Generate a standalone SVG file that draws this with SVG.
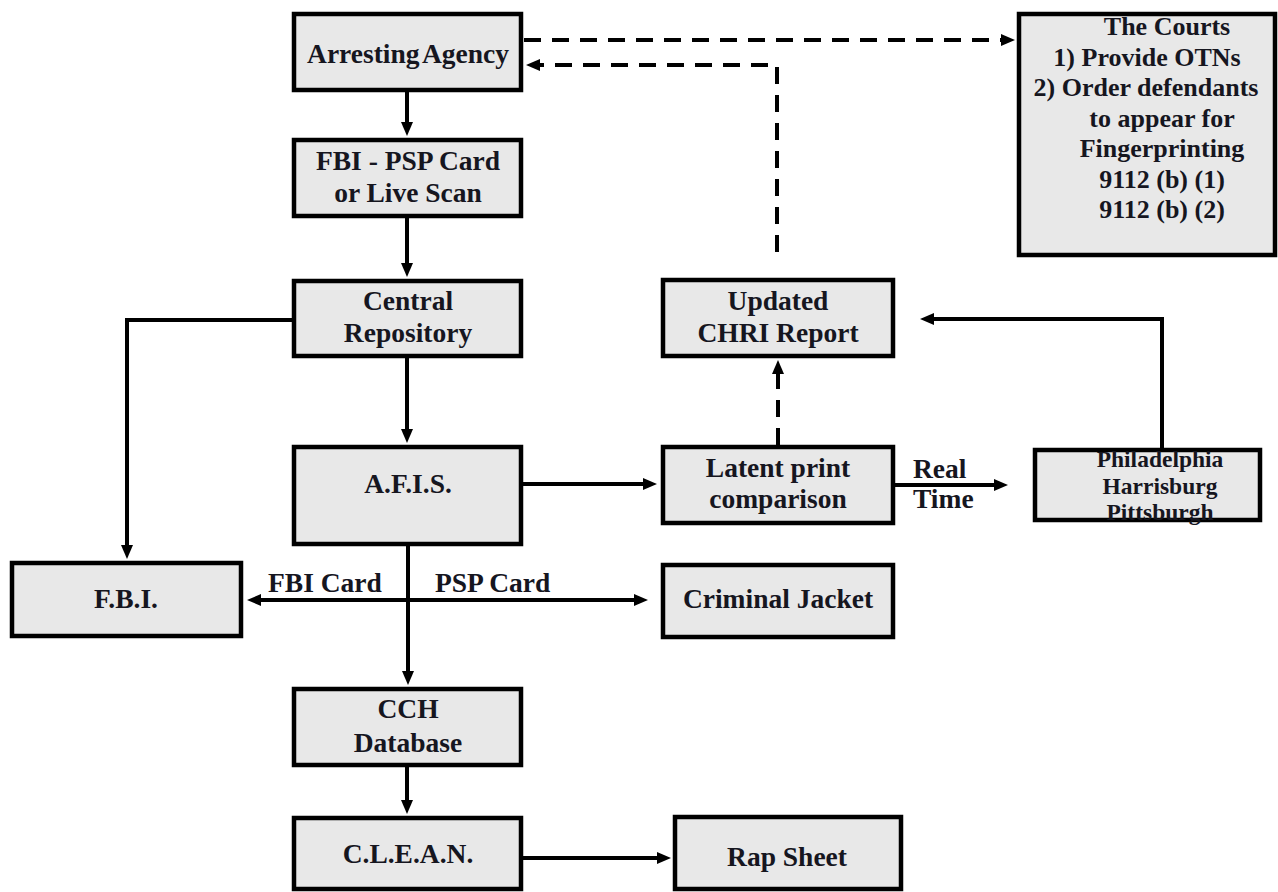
<svg xmlns="http://www.w3.org/2000/svg" width="1278" height="892" viewBox="0 0 1278 892">
<style>
.box{fill:#e8e8e8;stroke:#000;stroke-width:4.5}
.t{font-family:"Liberation Serif","Times New Roman",serif;font-weight:bold;font-size:27.5px;fill:#16161f;text-anchor:middle}
.s{font-size:23.5px}
.m{font-size:26px}
.l{text-anchor:start}
.c{fill:none;stroke:#000;stroke-width:4}
.d{stroke-dasharray:17 11}
</style>
<defs>
<marker id="ah" markerUnits="userSpaceOnUse" markerWidth="14" markerHeight="12" refX="8" refY="6" orient="auto">
<path d="M0,0 L14,6 L0,12 z" fill="#000"/>
</marker>
</defs>
<rect width="1278" height="892" fill="#fff"/>
<g id="connectors">
<path class="c" d="M407 92 V130" marker-end="url(#ah)"/>
<path class="c" d="M407 218 V271" marker-end="url(#ah)"/>
<path class="c" d="M407 358 V437" marker-end="url(#ah)"/>
<path class="c" d="M292 320 H127 V553" marker-end="url(#ah)"/>
<path class="c" d="M523 484 H651" marker-end="url(#ah)"/>
<path class="c" d="M408 546 V679" marker-end="url(#ah)"/>
<path class="c" d="M408 600 H253" marker-end="url(#ah)"/>
<path class="c" d="M408 600 H642" marker-end="url(#ah)"/>
<path class="c" d="M407 767 V808" marker-end="url(#ah)"/>
<path class="c" d="M523 858 H665" marker-end="url(#ah)"/>
<path class="c" d="M895 485 H1002" marker-end="url(#ah)"/>
<path class="c" d="M1162 448 V319 H926" marker-end="url(#ah)"/>
<path class="c d" d="M778 445 V366" marker-end="url(#ah)"/>
<path class="c d" d="M777 252 V65 H532" marker-end="url(#ah)"/>
<path class="c d" d="M524 40 H1009" marker-end="url(#ah)"/>
</g>
<g id="arresting"><rect class="box" x="294" y="14" width="227" height="76"/><text class="t" x="408" y="63" word-spacing="-3">Arresting Agency</text></g>
<g id="fbipsp"><rect class="box" x="294" y="140" width="227" height="76"/><text class="t" x="408" y="170">FBI - PSP Card</text><text class="t" x="408" y="202">or Live Scan</text></g>
<g id="central"><rect class="box" x="294" y="281" width="227" height="75"/><text class="t" x="408" y="310">Central</text><text class="t" x="408" y="342">Repository</text></g>
<g id="afis"><rect class="box" x="294" y="447" width="227" height="97"/><text class="t" x="408" y="493">A.F.I.S.</text></g>
<g id="cch"><rect class="box" x="294" y="689" width="227" height="76"/><text class="t" x="408" y="718">CCH</text><text class="t" x="408" y="752">Database</text></g>
<g id="clean"><rect class="box" x="294" y="818" width="227" height="71"/><text class="t" x="408" y="863">C.L.E.A.N.</text></g>
<g id="fbi"><rect class="box" x="12" y="563" width="229" height="73"/><text class="t" x="126" y="608">F.B.I.</text></g>
<g id="updated"><rect class="box" x="663" y="280" width="230" height="76"/><text class="t" x="778" y="310">Updated</text><text class="t" x="778" y="342">CHRI Report</text></g>
<g id="latent"><rect class="box" x="663" y="447" width="230" height="76"/><text class="t" x="778" y="477">Latent print</text><text class="t" x="778" y="508">comparison</text></g>
<g id="jacket"><rect class="box" x="663" y="565" width="230" height="72"/><text class="t" x="778" y="608">Criminal Jacket</text></g>
<g id="rapsheet"><rect class="box" x="675" y="817" width="226" height="72"/><text class="t" x="787" y="866">Rap Sheet</text></g>
<g id="cities"><rect class="box" x="1035" y="450" width="225" height="70"/><text class="t s" x="1160" y="467">Philadelphia</text><text class="t s" x="1160" y="493.5">Harrisburg</text><text class="t s" x="1160" y="520">Pittsburgh</text></g>
<g id="courts"><rect class="box" x="1019" y="14" width="256" height="241"/>
<text class="t m" x="1167" y="35">The Courts</text>
<text class="t m" x="1147" y="65.5">1) Provide OTNs</text>
<text class="t m" x="1146" y="96">2) Order defendants</text>
<text class="t m" x="1162" y="126.5">to appear for</text>
<text class="t m" x="1162" y="157">Fingerprinting</text>
<text class="t m" x="1162" y="187.5">9112 (b) (1)</text>
<text class="t m" x="1162" y="218">9112 (b) (2)</text>
</g>
<g id="labels">
<text class="t l" x="913" y="478">Real</text>
<text class="t l" x="913" y="508">Time</text>
<text class="t l" x="268" y="592">FBI Card</text>
<text class="t l" x="435" y="592">PSP Card</text>
</g>
</svg>
